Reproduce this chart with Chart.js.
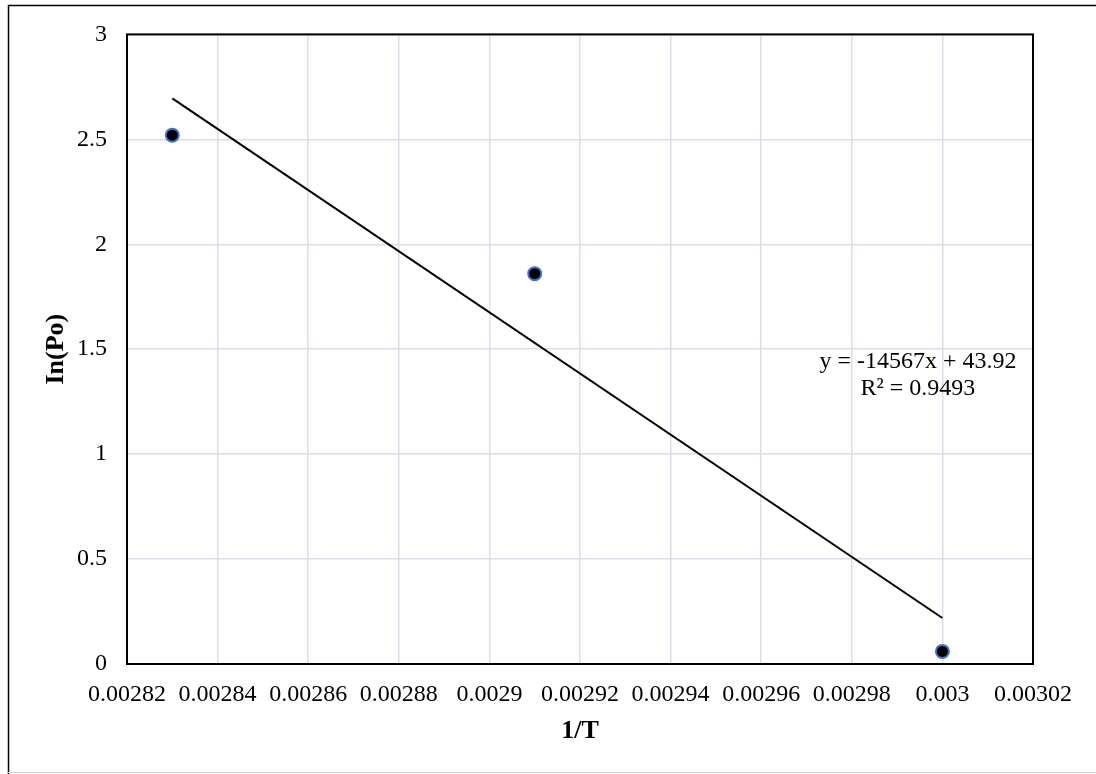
<!DOCTYPE html>
<html>
<head>
<meta charset="utf-8">
<script src="https://cdn.jsdelivr.net/npm/chart.js@4"></script>
<style>
  html, body { margin:0; padding:0; background:#fff; }
  #wrap { position:relative; width:1096px; height:774px; }
</style>
</head>
<body>
<div id="wrap"><canvas id="myChart" width="1096" height="774"></canvas></div>
<script>
// data
const invT = [0.00283, 0.00291, 0.003];
const lnPo = [2.52, 1.86, 0.06];
// trendline ends (y = -14567x + 43.92)
const trendX = [0.00283, 0.003];
const trendY = [2.695, 0.219];
const eqText = ['y = -14567x + 43.92', 'R\u00b2 = 0.9493'];
const eqPos = { x: 0.0029946, y: 1.412 };

const serif = 'Liberation Serif, Times New Roman, serif';

// frame round the whole picture, plot border and the equation label
const extras = {
    id: 'extras',
    afterDraw(chart) {
        const c = chart.ctx;
        c.save();
        c.strokeStyle = '#000';
        c.lineWidth = 1.5;
        c.beginPath();
        c.moveTo(8.5, 774);
        c.lineTo(8.5, 5.5);
        c.lineTo(1096, 5.5);
        c.stroke();
        c.strokeStyle = '#d0d0d0';
        c.lineWidth = 1;
        c.beginPath();
        c.moveTo(8, 772.5);
        c.lineTo(1096, 772.5);
        c.stroke();
        const a = chart.chartArea;
        c.strokeStyle = '#000';
        c.lineWidth = 2;
        c.strokeRect(a.left, a.top, a.right - a.left, a.bottom - a.top);
        // equation
        const px = chart.scales.x.getPixelForValue(eqPos.x);
        const py = chart.scales.y.getPixelForValue(eqPos.y);
        c.fillStyle = '#000';
        c.font = '24px ' + serif;
        c.textAlign = 'center';
        c.textBaseline = 'alphabetic';
        c.fillText(eqText[0], px, py);
        c.fillText(eqText[1], px, py + 27);
        c.restore();
    }
};

const ctx = document.getElementById('myChart').getContext('2d');

const myChart = new Chart(ctx, {
    type: 'scatter',
    data: {
        datasets: [{
            label: 'ln(Po)',
            data: invT.map((x, i) => ({ x: x, y: lnPo[i] })),
            backgroundColor: '#000',
            borderColor: '#4472c4',
            borderWidth: 2,
            pointRadius: 6.5,
            pointHoverRadius: 6.5
        }, {
            label: 'trend',
            type: 'line',
            data: trendX.map((x, i) => ({ x: x, y: trendY[i] })),
            borderColor: '#000',
            borderWidth: 2,
            pointRadius: 0,
            fill: false
        }]
    },
    options: {
        responsive: false,
        animation: false,
        layout: { padding: { left: 0, top: 33, right: 63, bottom: 0 } },
        plugins: {
            legend: { display: false },
            tooltip: { enabled: false }
        },
        scales: {
            x: {
                type: 'linear',
                min: 0.00282,
                max: 0.00302,
                afterFit(s) { s.height = 110; },
                ticks: {
                    stepSize: 0.00002,
                    padding: 16,
                    color: '#000',
                    font: { family: serif, size: 24 },
                    callback: v => +v.toFixed(5) + ''
                },
                grid: { color: '#d9dee8', lineWidth: 1.5, drawTicks: false },
                border: { display: false },
                title: {
                    display: true,
                    text: '1/T',
                    color: '#000',
                    font: { family: serif, size: 26, weight: 'bold' },
                    padding: { top: 0, bottom: 27 }
                }
            },
            y: {
                min: 0,
                max: 3,
                afterFit(s) { s.width = 127; },
                ticks: {
                    stepSize: 0.5,
                    padding: 20,
                    color: '#000',
                    font: { family: serif, size: 24 },
                    callback: v => +v.toFixed(1) + ''
                },
                grid: { color: '#d9dee8', lineWidth: 1.5, drawTicks: false },
                border: { display: false },
                title: {
                    display: true,
                    text: 'In(Po)',
                    color: '#000',
                    font: { family: serif, size: 26, weight: 'bold' },
                    padding: { top: 41, bottom: 0 }
                }
            }
        }
    },
    plugins: [extras]
});
</script>
</body>
</html>
